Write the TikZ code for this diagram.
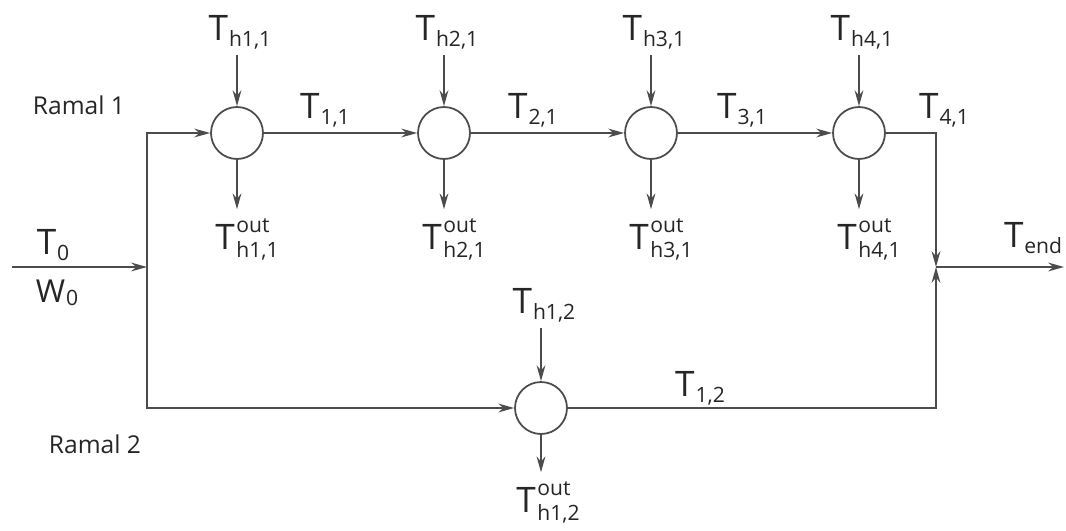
\documentclass[tikz,border=0pt]{standalone}
\usepackage{fontspec}
\setmainfont{Open Sans}
\usetikzlibrary{arrows.meta}

% temperature labels: T with a subscript, and T with out over a subscript
\newcommand{\Tsb}[1]{T\kern0.5pt\raisebox{-3.5pt}{\fontsize{12}{14}\selectfont #1}}
\newcommand{\Tho}[1]{T\kern1pt\raisebox{-4.5pt}{\fontsize{12}{14}\selectfont
  \begin{tabular}[b]{@{}l@{}}out\\#1\end{tabular}}}

\begin{document}
\begin{tikzpicture}[x=0.02cm,y=-0.02cm,line width=1pt,color=black!70,
  >={Stealth[length=9pt,width=5pt]}]
\tikzset{mix/.style={circle,draw,fill=white,minimum size=1.04cm,inner sep=0pt},
  lbl/.style={text=black!85,font=\fontsize{20}{24}\selectfont,inner sep=3pt},
  branch/.style={text=black!85,font=\fontsize{14}{16}\selectfont}}
\useasboundingbox (0,0) rectangle (1066,531);
% mixers of the first and second branch
\node [mix] (h11) at (237,133) {};
\node [mix] (h21) at (444,133) {};
\node [mix] (h31) at (651,133) {};
\node [mix] (h41) at (859,133) {};
\node [mix] (h12) at (541,408) {};
% corners and junctions of the piping
\coordinate (in) at (12,267);
\coordinate (split) at (147,267);
\coordinate (splitup) at (147,133);
\coordinate (splitdn) at (147,408);
\coordinate (join) at (936,267);
\coordinate (joinup) at (936,133);
\coordinate (joindn) at (936,408);
\coordinate (out) at (1064,267);
% labels
\node [branch] (r1) at (79,105) {Ramal 1};
\node [branch] (r2) at (95,444) {Ramal 2};
\node [lbl] (t0) at (53,245) {\Tsb{0}};
\node [lbl] (w0) at (57,293) {\fontsize{18}{20}\selectfont W\kern0.5pt\raisebox{-1.5pt}{\fontsize{12}{14}\selectfont 0}};
\node [lbl] (th11) at (240,32) {\Tsb{h1,1}};
\node [lbl] (th21) at (447,32) {\Tsb{h2,1}};
\node [lbl] (th31) at (654,32) {\Tsb{h3,1}};
\node [lbl] (th41) at (862,32) {\Tsb{h4,1}};
\node [lbl] (to11) at (247,240) {\Tho{h1,1}};
\node [lbl] (to21) at (454,240) {\Tho{h2,1}};
\node [lbl] (to31) at (661,240) {\Tho{h3,1}};
\node [lbl] (to41) at (869,240) {\Tho{h4,1}};
\node [lbl] (t11) at (325,110) {\Tsb{1,1}};
\node [lbl] (t21) at (533,110) {\Tsb{2,1}};
\node [lbl] (t31) at (742,110) {\Tsb{3,1}};
\node [lbl] (t41) at (944,110) {\Tsb{4,1}};
\node [lbl] (tend) at (1033,238) {\Tsb{end}};
\node [lbl] (th12) at (544,305) {\Tsb{h1,2}};
\node [lbl] (t12) at (700,388) {\Tsb{1,2}};
\node [lbl] (to12) at (548,503) {\Tho{h1,2}};
% main flow
\draw [->] (in) -- (split);
\draw [->] (split) -- (splitup) -- (h11);
\draw [->] (h11) -- (h21);
\draw [->] (h21) -- (h31);
\draw [->] (h31) -- (h41);
\draw [->] (h41) -- (joinup) -- (join);
\draw [->] (split) -- (splitdn) -- (h12);
\draw [->] (h12) -- (joindn) -- (join);
\draw [->] (join) -- (out);
% hot streams in and out of each mixer
\foreach \m/\t/\o in {h11/th11/to11,h21/th21/to21,h31/th31/to31,h41/th41/to41,h12/th12/to12}{
  \draw [->] (\m.north |- \t.south) -- (\m);
  \draw [->] (\m) -- (\m.south |- \o.north);
}
\end{tikzpicture}
\end{document}
